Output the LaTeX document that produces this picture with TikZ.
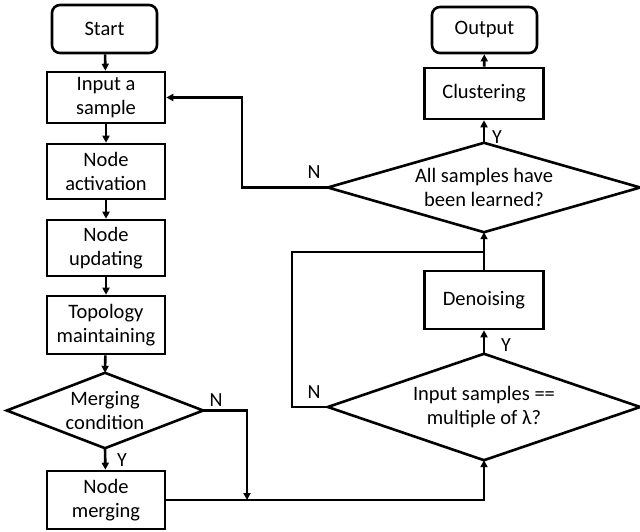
\documentclass[tikz,border=0pt]{standalone}
\usepackage{fontspec}
\setmainfont{Carlito}
\usetikzlibrary{arrows.meta}
\begin{document}
\begin{tikzpicture}[x=1pt,y=-1pt,
  every node/.style={font=\fontsize{20.5}{23.5}\selectfont, align=center},
  proc/.style={draw, line width=2.6pt, rectangle, inner sep=0pt},
  term/.style={draw, line width=2.6pt, rectangle, rounded corners=8pt, inner sep=0pt},
  dec/.style={rectangle, inner sep=0pt},
  decline/.style={line width=2.6pt, line join=miter},
  conn/.style={line width=2.6pt},
  arr/.style={line width=2.6pt, -{Triangle[length=7pt,width=7pt]}},
  lbl/.style={font=\fontsize{20}{22}\selectfont, inner sep=0pt}]
\useasboundingbox (0,0) rectangle (640,532);
% left column
\node[term, minimum width=105pt, minimum height=48pt] (start) at (104.5,29) {Start};
\node[proc, minimum width=118pt, minimum height=51pt] (input) at (106,97.5) {Input a\\sample};
\node[proc, minimum width=118pt, minimum height=55pt] (act) at (106,171.5) {Node\\activation};
\node[proc, minimum width=118pt, minimum height=56pt] (upd) at (106,248) {Node\\updating};
\node[proc, minimum width=118pt, minimum height=58pt] (topo) at (106,325) {Topology\\maintaining};
\node[dec, minimum width=196pt, minimum height=75pt] (merge) at (105,410.5) {Merging\\condition};
\node[proc, minimum width=118pt, minimum height=58pt] (nmerge) at (106,500) {Node\\merging};
% right column
\node[term, minimum width=105pt, minimum height=46pt] (output) at (484.5,30) {Output};
\node[proc, minimum width=119pt, minimum height=51pt] (clust) at (484,93.5) {Clustering};
\node[dec, minimum width=312pt, minimum height=89pt] (all) at (484,187.5) {All samples have\\been learned?};
\node[proc, minimum width=119pt, minimum height=58pt] (den) at (484,300) {Denoising};
\node[dec, minimum width=312pt, minimum height=106pt] (inp) at (484,407) {Input samples ==\\multiple of λ?};
% diamond outlines
\draw[decline] (merge.north) -- (merge.east) -- (merge.south) -- (merge.west) -- cycle;
\draw[decline] (all.north) -- (all.east) -- (all.south) -- (all.west) -- cycle;
\draw[decline] (inp.north) -- (inp.east) -- (inp.south) -- (inp.west) -- cycle;
% coordinates
\coordinate (m1) at (247,410.5);
\coordinate (m2) at (247,500);
\coordinate (b1) at (484,500);
\coordinate (n1) at (292,407);
\coordinate (n2) at (292,252);
\coordinate (n3) at (484,252);
\coordinate (a1) at (242,187.5);
\coordinate (a2) at (242,97.5);
% connectors
\draw[arr] (start) -- (input);
\draw[arr] (input) -- (act);
\draw[arr] (act) -- (upd);
\draw[arr] (upd) -- (topo);
\draw[arr] (topo) -- (merge.north);
\draw[arr] (merge.south) -- (nmerge);
\draw[arr] (merge.east) -- (m1) -- (m2);
\draw[arr] (nmerge.east) -- (b1) -- (inp.south);
\draw[arr] (inp.north) -- (den);
\draw[arr] (den) -- (all.south);
\draw[conn] (inp.west) -- (n1) -- (n2) -- (n3);
\draw[arr] (all.north) -- (clust);
\draw[arr] (clust) -- (output);
\draw[arr] (all.west) -- (a1) -- (a2) -- (input.east);
% labels
\node[lbl] (ly1) at (122,460) {Y};
\node[lbl] (ln1) at (216,400) {N};
\node[lbl] (ln2) at (314,172) {N};
\node[lbl] (ly2) at (497,137) {Y};
\node[lbl] (ly3) at (506,345) {Y};
\node[lbl] (ln3) at (314,392) {N};
\end{tikzpicture}
\end{document}
